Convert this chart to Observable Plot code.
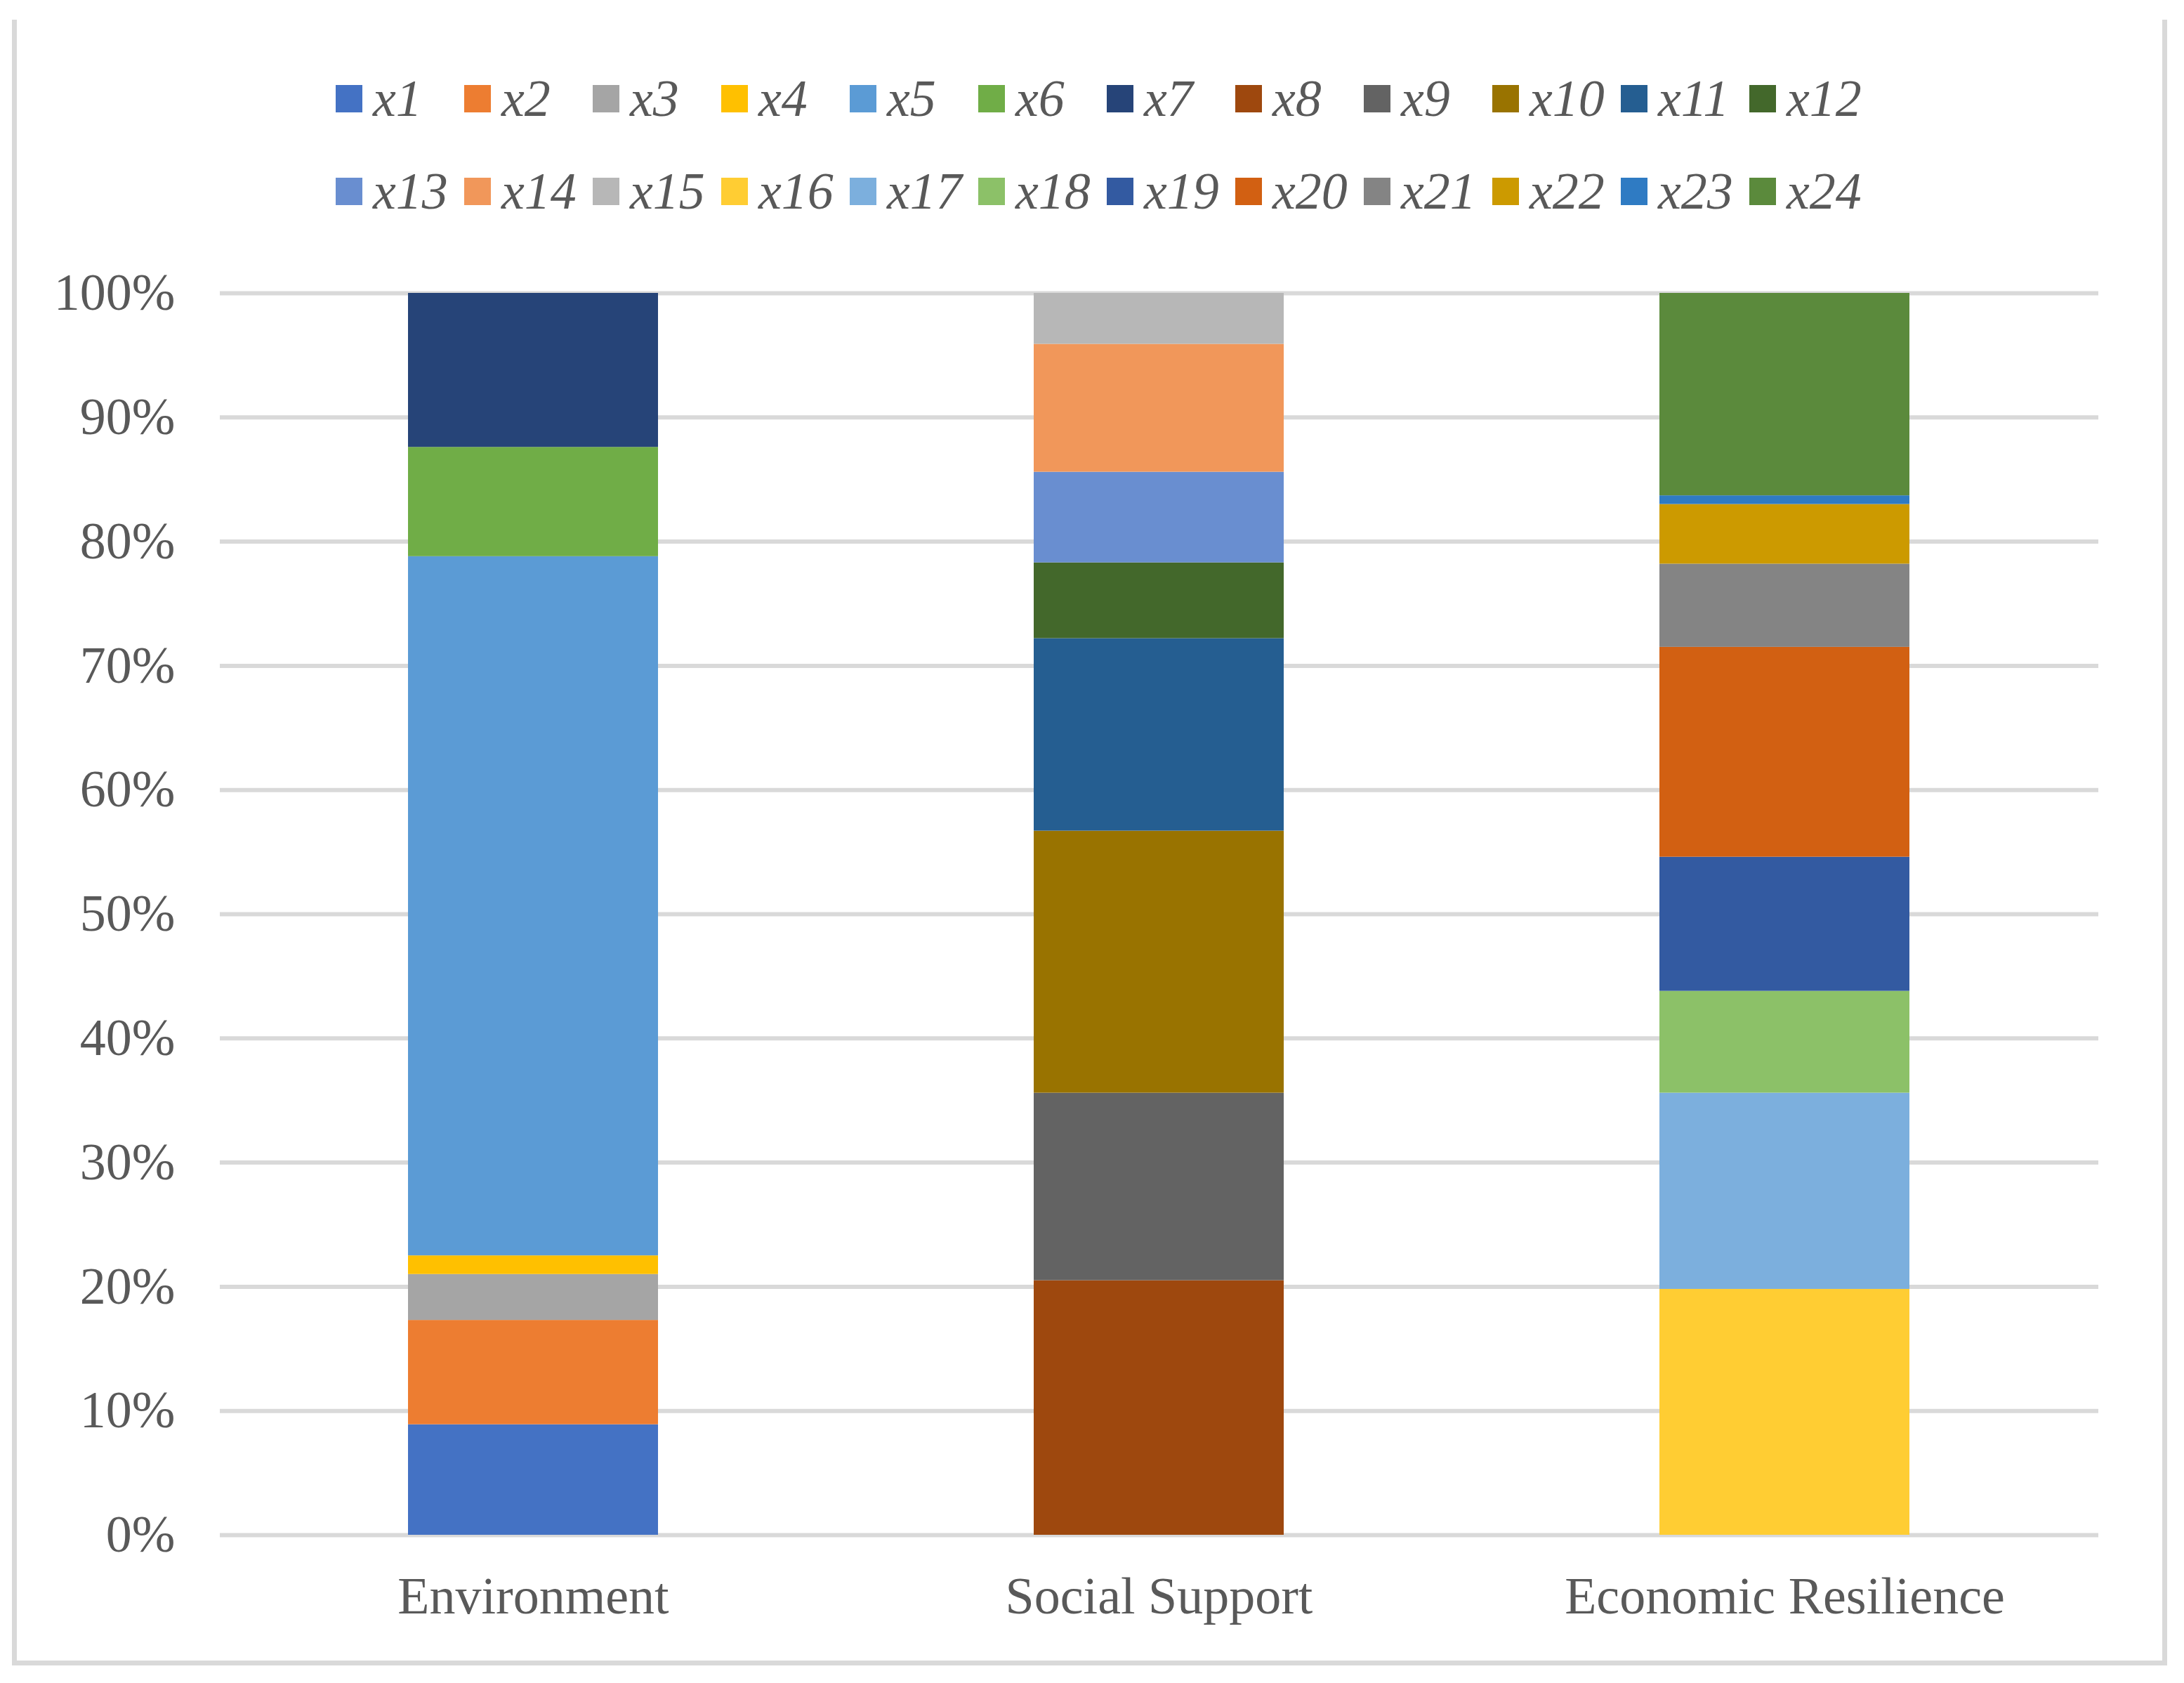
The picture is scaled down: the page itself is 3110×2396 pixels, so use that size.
<!DOCTYPE html>
<html>
<head>
<meta charset="utf-8">
<script src="https://cdn.jsdelivr.net/npm/d3@7"></script>
<script src="https://cdn.jsdelivr.net/npm/@observablehq/plot@0.6"></script>
<style>
  html, body { margin: 0; padding: 0; background: #fff; }
  #wrap { position: relative; width: 3110px; height: 2396px; overflow: hidden; background: #fff; font-family: "Liberation Serif", "DejaVu Serif", serif; color: #595959; }
  #frame { position: absolute; left: 17px; top: 28px; width: 3069px; height: 2343px; box-sizing: border-box; border-left: 7px solid #d9d9d9; border-right: 7px solid #d9d9d9; border-bottom: 7px solid #d9d9d9; }
  #legend { position: absolute; left: 478px; top: 74px; display: grid; grid-template-columns: repeat(12, 183px); grid-auto-rows: 132px; }
  .item { display: flex; align-items: center; white-space: nowrap; }
  .sw { width: 38px; height: 39px; margin-right: 15px; flex: none; }
  .lab { font-style: italic; font-size: 74px; line-height: 1; }
  #chart { position: absolute; left: 0; top: 300px; }
</style>
</head>
<body>
<div id="wrap">
  <div id="frame"></div>
  <div id="legend"></div>
  <div id="chart"></div>
</div>
<script>
const categories = ["Environment", "Social Support", "Economic Resilience"];
const seriesNames = ["x1","x2","x3","x4","x5","x6","x7","x8","x9","x10","x11","x12",
                     "x13","x14","x15","x16","x17","x18","x19","x20","x21","x22","x23","x24"];
const seriesCategory = [0,0,0,0,0,0,0, 1,1,1,1,1,1,1,1, 2,2,2,2,2,2,2,2,2];
const seriesValues = [8.9, 8.4, 3.7, 1.5, 56.3, 8.8, 12.4,
                      20.5, 15.1, 21.1, 15.5, 6.1, 7.3, 10.3, 4.1,
                      19.8, 15.8, 8.2, 10.8, 16.9, 6.7, 4.8, 0.7, 16.3];
const seriesColors = ["#4472C4","#ED7D31","#A5A5A5","#FFC000","#5B9BD5","#70AD47",
                      "#264478","#9E480E","#636363","#997300","#255E91","#43682B",
                      "#698ED0","#F1975A","#B7B7B7","#FFCD33","#7CAFDD","#8CC168",
                      "#335AA1","#D26012","#848484","#CC9A00","#2F7BC3","#5B8A3C"];
const yTicks = [0,10,20,30,40,50,60,70,80,90,100];

const rows = seriesNames.map((s, i) => ({
  series: s,
  category: categories[seriesCategory[i]],
  value: seriesValues[i]
}));

// Legend (HTML, above the SVG)
const legend = document.getElementById("legend");
seriesNames.forEach((s, i) => {
  const it = document.createElement("div");
  it.className = "item";
  const sw = document.createElement("div");
  sw.className = "sw";
  sw.style.background = seriesColors[i];
  const lb = document.createElement("span");
  lb.className = "lab";
  lb.textContent = s;
  it.appendChild(sw);
  it.appendChild(lb);
  legend.appendChild(it);
});

const chart = Plot.plot({
  width: 3110,
  height: 2060,
  marginTop: 117,
  marginBottom: 175,
  marginLeft: 313,
  marginRight: 122,
  style: { fontFamily: "Liberation Serif", fontSize: "74px", color: "#595959", background: "transparent" },
  x: { domain: categories, paddingInner: 0.6, paddingOuter: 0.3, label: null },
  y: { domain: [0, 100], label: null },
  color: { domain: seriesNames, range: seriesColors },
  marks: [
    Plot.ruleY(yTicks, { stroke: "#d9d9d9", strokeWidth: 6 }),
    Plot.barY(rows, Plot.stackY({
      x: "category", y: "value", fill: "series", inset: 0
    })),
    Plot.axisY({ ticks: yTicks, tickSize: 0, tickPadding: 64, tickFormat: d => d + "%", label: null, fontSize: 74 }),
    Plot.axisX({ tickSize: 0, tickPadding: 59, label: null, fontSize: 74 })
  ]
});
document.getElementById("chart").appendChild(chart);
</script>
</body>
</html>
